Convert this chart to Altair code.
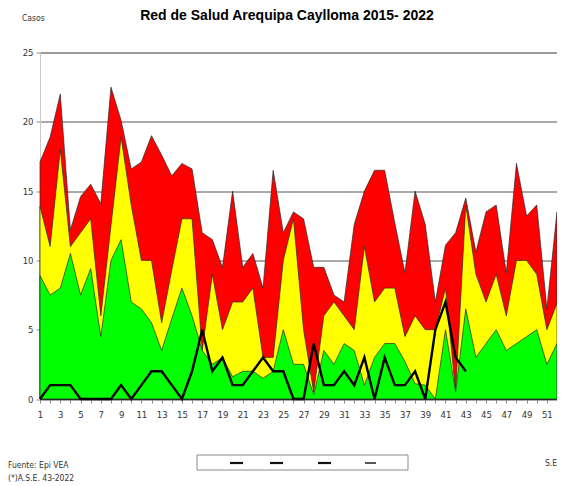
import altair as alt
import pandas as pd

# ---- data ----
semanas = list(range(1, 53))
# upper limit of the red zone (alarma)
alarma = [17.1, 18.9, 22.0, 12.2, 14.6, 15.5, 14.1, 22.5, 20.1, 16.6,
          17.1, 19.0, 17.6, 16.1, 17.0, 16.6, 12.0, 11.5, 9.5, 15.0,
          9.5, 10.5, 8.0, 16.5, 12.0, 13.5, 13.0, 9.5, 9.5, 7.5,
          7.0, 12.6, 15.0, 16.5, 16.5, 12.7, 9.1, 15.0, 12.6, 7.0,
          11.1, 12.0, 14.5, 10.6, 13.5, 14.0, 9.1, 17.0, 13.2, 14.0,
          6.5, 13.5]
# upper limit of the yellow zone (seguridad)
seguridad = [13.9, 11.0, 18.0, 11.0, 12.0, 13.0, 6.0, 12.5, 18.9, 14.0,
             10.0, 10.0, 5.5, 9.3, 13.0, 13.0, 3.5, 9.0, 5.0, 7.0,
             7.0, 8.0, 3.0, 3.0, 10.0, 13.0, 5.0, 0.5, 6.0, 7.0,
             6.0, 5.0, 11.0, 7.0, 8.0, 8.0, 4.5, 6.0, 5.0, 5.0,
             8.0, 0.5, 14.0, 9.0, 7.0, 9.0, 6.0, 10.0, 10.0, 9.0,
             5.0, 6.9]
# upper limit of the green zone (exito)
exito = [8.9, 7.5, 8.0, 10.5, 7.5, 9.4, 4.5, 10.0, 11.5, 7.0,
         6.5, 5.5, 3.5, 5.8, 8.0, 6.0, 3.5, 2.5, 3.0, 1.6,
         2.0, 2.0, 1.5, 2.0, 5.0, 2.5, 2.5, 0.3, 3.5, 2.5,
         4.0, 3.5, 1.0, 3.0, 4.0, 4.0, 2.7, 1.1, 1.0, 0.0,
         5.0, 0.5, 6.5, 3.0, 4.0, 5.0, 3.5, 4.0, 4.5, 5.0,
         2.5, 4.0]
# cases 2022 up to week 43
casos_2022 = [0, 1, 1, 1, 0, 0, 0, 0, 1, 0,
              1, 2, 2, 1, 0, 2, 5, 2, 3, 1,
              1, 2, 3, 2, 2, 0, 0, 4, 1, 1,
              2, 1, 3, 0, 3, 1, 1, 2, 0, 5,
              7, 3, 2]

titulo = "Red  de Salud Arequipa Caylloma 2015- 2022"
ylabel = "Casos"
fuente = "Fuente: Epi VEA"
nota = "(*)A.S.E. 43-2022"
xlabel = "S.E"

FONT = "DejaVu Sans Condensed, Liberation Sans, Arial, sans-serif"
TFONT = "Liberation Sans, Arial, sans-serif"

df = pd.DataFrame({"SE": semanas, "alarma": alarma,
                   "seguridad": seguridad, "exito": exito})
dfc = pd.DataFrame({"SE": semanas[:len(casos_2022)], "casos": casos_2022})
one = alt.Data(values=[{}])

x_axis = alt.Axis(values=semanas, labelExpr="datum.value % 2 == 1 ? datum.label : ''",
                  grid=False, title=None, labelOverlap=False, labelFlush=False,
                  domainColor="#333333", domainWidth=1, tickColor="#888888", tickSize=4,
                  labelFont=FONT, labelFontSize=9.5, labelColor="#333333", labelPadding=6)
y_axis = alt.Axis(values=[0, 5, 10, 15, 20, 25], title=None, grid=True,
                  gridColor="#8c8c8c", gridWidth=1.3, domainColor="#c8c8c8",
                  tickColor="#8c8c8c", tickSize=4, labelFont=FONT, labelFontSize=9.5,
                  labelColor="#333333", labelPadding=3)
xs = alt.Scale(domain=[1, 52], nice=False, zero=False)
ys = alt.Scale(domain=[0, 25], nice=False)

X = alt.X("SE:Q", scale=xs, axis=x_axis)
base = alt.Chart(df)
red = base.mark_area(fill="#FF0000", stroke="#2a2a2a", strokeWidth=0.7).encode(
    x=X, y=alt.Y("alarma:Q", scale=ys, axis=y_axis))
yellow = base.mark_area(fill="#FFFF00", stroke="#2a2a2a", strokeWidth=0.7).encode(
    x=X, y=alt.Y("seguridad:Q", scale=ys, axis=y_axis))
green = base.mark_area(fill="#00FF00", stroke="#2a2a2a", strokeWidth=0.7).encode(
    x=X, y=alt.Y("exito:Q", scale=ys, axis=y_axis))
line = alt.Chart(dfc).mark_line(color="black", strokeWidth=2.4).encode(
    x=X, y=alt.Y("casos:Q", scale=ys, axis=y_axis))


def txt(t, x, y, font=FONT, **kw):
    return alt.Chart(one).mark_text(text=t, font=font, **kw).encode(
        x=alt.value(x), y=alt.value(y))


title = txt(titulo, 247, -33, font=TFONT, fontSize=14, fontWeight="bold",
            align="center", baseline="alphabetic", color="black")
casos_t = txt(ylabel, -18, -34.5, fontSize=8.5, align="left", baseline="middle", color="#333333")
fuente_t = txt(fuente, -32, 412, fontSize=8.5, align="left", baseline="middle", color="#333333")
nota_t = txt(nota, -32, 425.5, fontSize=8.5, align="left", baseline="middle", color="#333333")
se_t = txt(xlabel, 517, 410.5, fontSize=8.5, align="right", baseline="middle", color="#333333")

box = alt.Chart(one).mark_rect(fill="white", stroke="#8a8a8a", strokeWidth=1).encode(
    x=alt.value(157), x2=alt.value(368), y=alt.value(402.5), y2=alt.value(417.5))
dashes = []
for (a, b, w) in [(190, 203, 2.2), (230, 243, 2.2), (278, 291, 2.2), (325, 336, 1.4)]:
    dashes.append(alt.Chart(one).mark_rule(color="#111111", strokeWidth=w).encode(
        x=alt.value(a), x2=alt.value(b), y=alt.value(410.5)))

chart = alt.layer(red, yellow, green, line, title, casos_t, fuente_t, nota_t, se_t,
                  box, *dashes).properties(
    width=517, height=346.5,
    autosize=alt.AutoSizeParams(type="none"),
    padding={"left": 32, "top": 44.5, "right": 0, "bottom": 85},
    background="white",
).configure_view(stroke="#8c8c8c", strokeWidth=1)

chart.save("out.html", embed_options={"renderer": "svg", "actions": False})
